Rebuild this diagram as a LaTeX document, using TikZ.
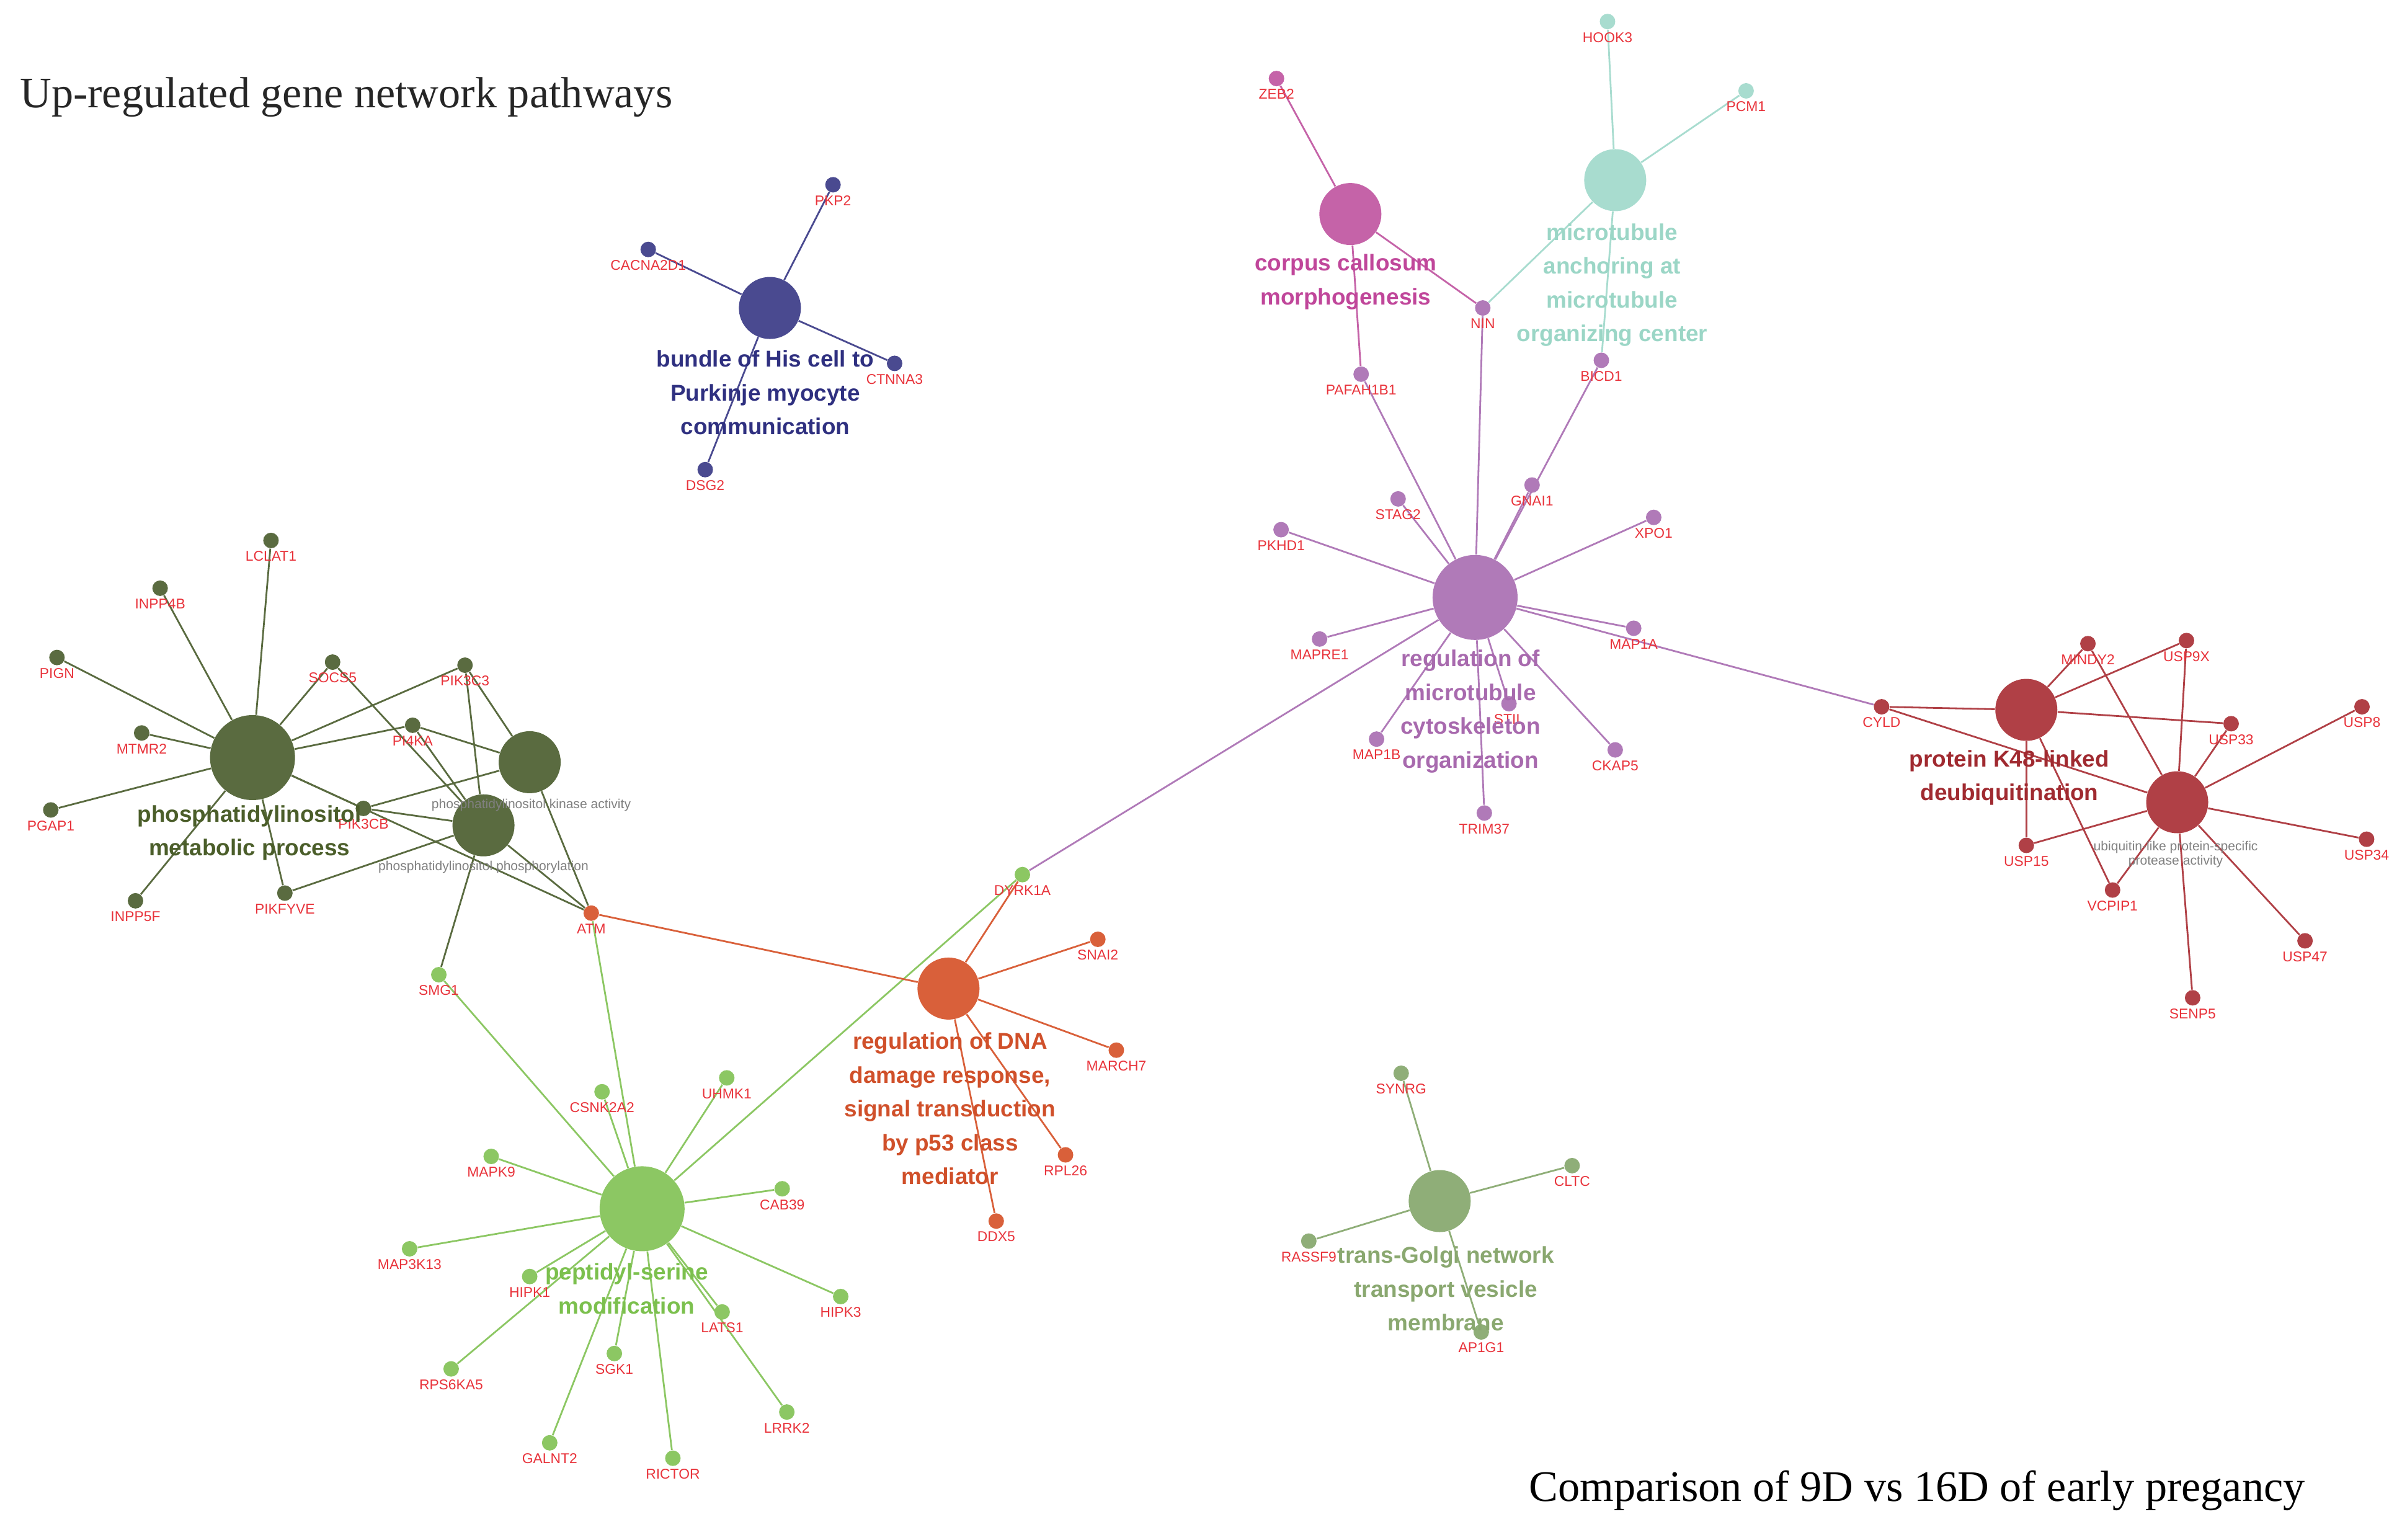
\documentclass[tikz,border=0pt]{standalone}
\usepackage{fontspec}
\usetikzlibrary{backgrounds}
\setmainfont{Liberation Sans}
\newfontfamily\serif{Liberation Serif}
\definecolor{cb}{HTML}{4A4A90}\definecolor{lb}{HTML}{2F3080}
\definecolor{cdg}{HTML}{5A6B40}\definecolor{ldg}{HTML}{4B5E2A}
\definecolor{clg}{HTML}{8CC763}\definecolor{llg}{HTML}{7CC04E}
\definecolor{co}{HTML}{D9603A}\definecolor{lo}{HTML}{D0502A}
\definecolor{cp}{HTML}{B07AB8}\definecolor{lp}{HTML}{A86AAE}
\definecolor{cm}{HTML}{C563A8}\definecolor{lm}{HTML}{C0469A}
\definecolor{ct}{HTML}{A8DCCF}\definecolor{lt}{HTML}{9BD6C6}
\definecolor{cr}{HTML}{B04046}\definecolor{lr}{HTML}{A02A30}
\definecolor{cg}{HTML}{8FAE78}\definecolor{lg}{HTML}{8AA870}
\definecolor{gene}{HTML}{E8333B}
\tikzset{
 hub/.style={circle,fill=#1,inner sep=0pt},
 big/.style={minimum size=1.37cm},
 small/.style={minimum size=1.0cm},
 gd/.style 2 args={circle,fill=#1,inner sep=0pt,minimum size=0.25cm,label={[gene,font=\fontsize{6.5}{7}\selectfont,inner sep=1pt]below:#2}},
 hl/.style={text=#1,font=\bfseries\fontsize{10.5}{15.5}\selectfont,align=center},
 sl/.style={text=gray,font=\fontsize{6}{6.5}\selectfont,align=center},
 ed/.style={draw=#1,line width=0.8pt},
}
\newcommand{\G}[4]{\node[gd={#1}{#2}] (#2) at (#3,#4) {};}
\begin{document}
\begin{tikzpicture}[x=0.02483cm,y=-0.02483cm]
\useasboundingbox (0,0) rectangle (1560,1000);
% hubs
\node[hub=cb,small] (Hb) at (500,200) {};
\node[hub=cdg,big] (Hdg1) at (164,492) {};
\node[hub=cdg,small] (Hdg2) at (344,495) {};
\node[hub=cdg,small] (Hdg3) at (314,536) {};
\node[hub=clg,big] (Hlg) at (417,785) {};
\node[hub=co,small] (Ho) at (616,642) {};
\node[hub=cp,big] (Hp) at (958,388) {};
\node[hub=cm,small] (Hm) at (877,139) {};
\node[hub=ct,small] (Ht) at (1049,117) {};
\node[hub=cr,small] (Hr1) at (1316,461) {};
\node[hub=cr,small] (Hr2) at (1414,521) {};
\node[hub=cg,small] (Hg) at (935,780) {};
% genes
\G{cb}{PKP2}{541}{120}\G{cb}{CACNA2D1}{421}{162}\G{cb}{CTNNA3}{581}{236}\G{cb}{DSG2}{458}{305}
\G{cdg}{LCLAT1}{176}{351}\G{cdg}{INPP4B}{104}{382}\G{cdg}{PIGN}{37}{427}\G{cdg}{MTMR2}{92}{476}
\G{cdg}{PGAP1}{33}{526}\G{cdg}{INPP5F}{88}{585}\G{cdg}{PIKFYVE}{185}{580}\G{cdg}{SOCS5}{216}{430}
\G{cdg}{PIK3C3}{302}{432}\G{cdg}{PI4KA}{268}{471}\G{cdg}{PIK3CB}{236}{525}\G{co}{ATM}{384}{593}
\G{clg}{SMG1}{285}{633}
\G{clg}{CSNK2A2}{391}{709}\G{clg}{UHMK1}{472}{700}\G{clg}{MAPK9}{319}{751}\G{clg}{CAB39}{508}{772}
\G{clg}{MAP3K13}{266}{811}\G{clg}{HIPK1}{344}{829}\G{clg}{HIPK3}{546}{842}\G{clg}{LATS1}{469}{852}
\G{clg}{RPS6KA5}{293}{889}\G{clg}{SGK1}{399}{879}\G{clg}{LRRK2}{511}{917}\G{clg}{GALNT2}{357}{937}
\G{clg}{RICTOR}{437}{947}\G{clg}{DYRK1A}{664}{568}
\G{co}{SNAI2}{713}{610}\G{co}{MARCH7}{725}{682}\G{co}{RPL26}{692}{750}\G{co}{DDX5}{647}{793}
\G{cp}{PAFAH1B1}{884}{243}\G{cp}{NIN}{963}{200}\G{cp}{BICD1}{1040}{234}\G{cp}{GNAI1}{995}{315}
\G{cp}{STAG2}{908}{324}\G{cp}{PKHD1}{832}{344}\G{cp}{XPO1}{1074}{336}\G{cp}{MAP1A}{1061}{408}
\G{cp}{MAPRE1}{857}{415}\G{cp}{STIL}{980}{457}\G{cp}{MAP1B}{894}{480}\G{cp}{CKAP5}{1049}{487}
\G{cp}{TRIM37}{964}{528}
\G{cm}{ZEB2}{829}{51}\G{ct}{HOOK3}{1044}{14}\G{ct}{PCM1}{1134}{59}
\G{cr}{CYLD}{1222}{459}\G{cr}{MINDY2}{1356}{418}\G{cr}{USP9X}{1420}{416}\G{cr}{USP8}{1534}{459}
\G{cr}{USP33}{1449}{470}\G{cr}{USP15}{1316}{549}\G{cr}{VCPIP1}{1372}{578}\G{cr}{USP34}{1537}{545}
\G{cr}{USP47}{1497}{611}\G{cr}{SENP5}{1424}{648}
\G{cg}{SYNRG}{910}{697}\G{cg}{CLTC}{1021}{757}\G{cg}{RASSF9}{850}{806}\G{cg}{AP1G1}{962}{865}
% edges
\begin{pgfonlayer}{background}
\foreach \g in {PKP2,CACNA2D1,CTNNA3,DSG2} \draw[ed=cb] (Hb) -- (\g);
\foreach \g in {LCLAT1,INPP4B,PIGN,MTMR2,PGAP1,INPP5F,PIKFYVE,SOCS5,PIK3C3,PI4KA,PIK3CB,ATM} \draw[ed=cdg] (Hdg1) -- (\g);
\foreach \g in {PIK3C3,PI4KA,PIK3CB,ATM} \draw[ed=cdg] (Hdg2) -- (\g);
\foreach \g in {PIK3C3,SOCS5,PI4KA,PIK3CB,ATM,SMG1,PIKFYVE} \draw[ed=cdg] (Hdg3) -- (\g);
\foreach \g in {CSNK2A2,UHMK1,MAPK9,CAB39,MAP3K13,HIPK1,HIPK3,LATS1,RPS6KA5,SGK1,LRRK2,GALNT2,RICTOR,SMG1,ATM,DYRK1A} \draw[ed=clg] (Hlg) -- (\g);
\foreach \g in {SNAI2,MARCH7,RPL26,DDX5,DYRK1A,ATM} \draw[ed=co] (Ho) -- (\g);
\foreach \g in {PAFAH1B1,NIN,BICD1,GNAI1,STAG2,PKHD1,XPO1,MAP1A,MAPRE1,STIL,MAP1B,CKAP5,TRIM37,DYRK1A,CYLD} \draw[ed=cp] (Hp) -- (\g);
\foreach \g in {ZEB2,NIN,PAFAH1B1} \draw[ed=cm] (Hm) -- (\g);
\foreach \g in {HOOK3,PCM1,NIN,BICD1} \draw[ed=ct] (Ht) -- (\g);
\foreach \g in {CYLD,MINDY2,USP9X,USP33,USP15,VCPIP1} \draw[ed=cr] (Hr1) -- (\g);
\foreach \g in {CYLD,MINDY2,USP9X,USP8,USP33,USP15,VCPIP1,USP34,USP47,SENP5} \draw[ed=cr] (Hr2) -- (\g);
\foreach \g in {SYNRG,CLTC,RASSF9,AP1G1} \draw[ed=cg] (Hg) -- (\g);
\end{pgfonlayer}
% hub labels
\node[hl=lb] (Lb) at (497,255) {bundle of His cell to\\Purkinje myocyte\\communication};
\node[hl=ldg] (Ldg) at (162,541) {phosphatidylinositol\\metabolic process};
\node[sl] (Ldg2) at (345,523) {phosphatidylinositol kinase activity};
\node[sl] (Ldg3) at (314,563) {phosphatidylinositol phosphorylation};
\node[hl=llg] (Llg) at (407,837) {peptidyl-serine\\modification};
\node[hl=lo] (Lo) at (617,720) {regulation of DNA\\damage response,\\signal transduction\\by p53 class\\mediator};
\node[hl=lp] (Lp) at (955,462) {regulation of\\microtubule\\cytoskeleton\\organization};
\node[hl=lm] (Lm) at (874,183) {corpus callosum\\morphogenesis};
\node[hl=lt] (Lt) at (1047,185) {microtubule\\anchoring at\\microtubule\\organizing center};
\node[hl=lr] (Lr) at (1305,505) {protein K48-linked\\deubiquitination};
\node[sl] (Lr2) at (1413,555) {ubiquitin-like protein-specific\\protease activity};
\node[hl=lg] (Lg) at (939,837) {trans-Golgi network\\transport vesicle\\membrane};
\node[anchor=west,font=\serif\fontsize{20}{22}\selectfont,text=black!85] (T1) at (8,63) {Up-regulated gene network pathways};
\node[anchor=east,font=\serif\fontsize{20}{22}\selectfont,text=black] (T2) at (1502,968) {Comparison of 9D vs 16D of early pregancy};
\end{tikzpicture}
\end{document}
